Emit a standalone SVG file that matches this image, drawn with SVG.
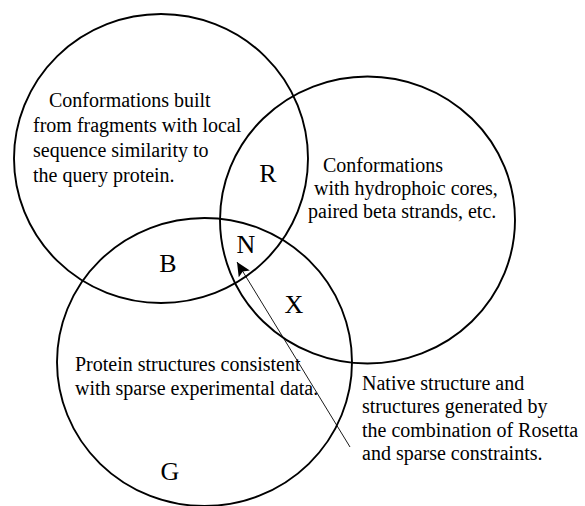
<svg xmlns="http://www.w3.org/2000/svg" width="585" height="506" viewBox="0 0 585 506">
  <style>
    .set { fill: none; stroke: #000; stroke-width: 1.9; }
    .txt { font-family: "Liberation Serif", "Times New Roman", serif; font-size: 20px; fill: #000; }
    .lbl { font-family: "Liberation Serif", "Times New Roman", serif; font-size: 26px; fill: #000; text-anchor: middle; }
    .conn { stroke: #000; stroke-width: 0.9; fill: none; }
  </style>
  <defs>
    <marker id="arrow" markerUnits="userSpaceOnUse" viewBox="0 0 14 13" refX="14" refY="6.5" markerWidth="14" markerHeight="13" orient="auto">
      <path d="M0,0 L14,6.5 L0,13 L3,6.5 z" fill="#000"/>
    </marker>
  </defs>
  <rect width="585" height="506" fill="#fff"/>

  <g id="fragments">
    <ellipse class="set" cx="161" cy="158.5" rx="147" ry="144.5"/>
    <text class="txt" x="49" y="106.5">Conformations built</text>
    <text class="txt" x="33" y="131.5">from fragments with local</text>
    <text class="txt" x="33" y="156.5">sequence similarity to</text>
    <text class="txt" x="33" y="181.5">the query protein.</text>
  </g>

  <g id="rosetta">
    <ellipse class="set" cx="367.5" cy="220" rx="147.5" ry="143.5"/>
    <text class="txt" x="323" y="172">Conformations</text>
    <text class="txt" x="314" y="195">with hydrophoic cores,</text>
    <text class="txt" x="308" y="218">paired beta strands, etc.</text>
  </g>

  <g id="experimental">
    <ellipse class="set" cx="204.5" cy="362" rx="147.5" ry="144"/>
    <text class="txt" x="75" y="371">Protein structures consistent</text>
    <text class="txt" x="75" y="395">with sparse experimental data.</text>
  </g>

  <g id="region-labels">
    <text class="lbl" x="268" y="182">R</text>
    <text class="lbl" x="246" y="253">N</text>
    <text class="lbl" x="168" y="272">B</text>
    <text class="lbl" x="294" y="313">X</text>
    <text class="lbl" x="170" y="480">G</text>
  </g>

  <g id="native-note">
    <text class="txt" x="362" y="390">Native structure and</text>
    <text class="txt" x="362" y="413">structures generated by</text>
    <text class="txt" x="362" y="437">the combination of Rosetta</text>
    <text class="txt" x="362" y="460">and sparse constraints.</text>
  </g>

  <g id="connectors">
    <line class="conn" x1="350" y1="447" x2="237" y2="262" marker-end="url(#arrow)"/>
  </g>
</svg>
